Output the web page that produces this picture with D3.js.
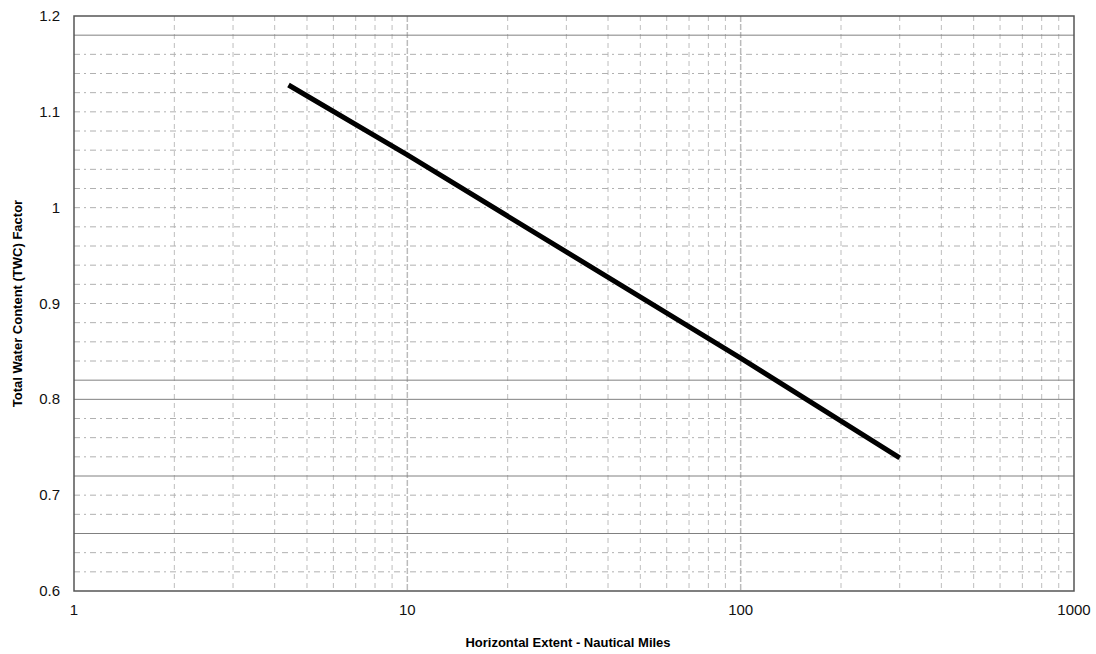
<!DOCTYPE html>
<html>
<head>
<meta charset="utf-8">
<script src="https://cdn.jsdelivr.net/npm/d3@7"></script>
<style>
  body { margin: 0; background: #fff; }
  svg { font-family: "Liberation Sans", Arial, sans-serif; }
</style>
</head>
<body>
<svg id="chart" width="1096" height="654"></svg>
<script>
// curve
const extentNm = [4.4, 10, 100, 300];
const twcFactor = [1.128, 1.055, 0.843, 0.739];

const xTicks = [1, 10, 100, 1000];
const yTicks = [0.6, 0.7, 0.8, 0.9, 1.0, 1.1, 1.2];
const yLabels = ['0.6', '0.7', '0.8', '0.9', '1', '1.1', '1.2'];
// horizontal grid lines that print darker/solid in the original
const solidRows = [1.18, 0.82, 0.80, 0.72, 0.66];

const svg = d3.select('#chart');
const plotL = 74, plotR = 1074, plotT = 16, plotB = 591;

const x = d3.scaleLog().domain([1, 1000]).range([plotL, plotR]);
const y = d3.scaleLinear().domain([0.6, 1.2]).range([plotB, plotT]);

// vertical grid: minor ticks of each decade
const minor = [];
for (let d = 1; d < 1000; d *= 10) for (let k = 2; k <= 9; k++) minor.push(d * k);
svg.append('g').selectAll('line').data(minor).enter().append('line')
  .attr('x1', d => x(d)).attr('x2', d => x(d))
  .attr('y1', plotT).attr('y2', plotB)
  .attr('stroke', '#bdbdbd').attr('stroke-width', 1)
  .attr('stroke-dasharray', '5 4');
svg.append('g').selectAll('line').data(xTicks.slice(1, 3)).enter().append('line')
  .attr('x1', d => x(d)).attr('x2', d => x(d))
  .attr('y1', plotT).attr('y2', plotB)
  .attr('stroke', '#bbb').attr('stroke-width', 1.5)
  .attr('stroke-dasharray', '6 2');

// horizontal grid every 0.02
const rows = d3.range(31).map(i => +(0.6 + i * 0.02).toFixed(2)).filter(v => v > 0.6 && v < 1.2);
svg.append('g').selectAll('line').data(rows.filter(v => !solidRows.includes(v))).enter().append('line')
  .attr('x1', plotL).attr('x2', plotR)
  .attr('y1', d => y(d)).attr('y2', d => y(d))
  .attr('stroke', '#b0b0b0').attr('stroke-width', 1)
  .attr('stroke-dasharray', '6 4 2 4');
svg.append('g').selectAll('line').data(solidRows).enter().append('line')
  .attr('x1', plotL).attr('x2', plotR)
  .attr('y1', d => y(d)).attr('y2', d => y(d))
  .attr('stroke', '#808080').attr('stroke-width', 1);

// frame
svg.append('rect')
  .attr('x', plotL).attr('y', plotT)
  .attr('width', plotR - plotL).attr('height', plotB - plotT)
  .attr('fill', 'none').attr('stroke', '#555').attr('stroke-width', 1.5);

// axes labels
svg.append('g').selectAll('text').data(yTicks).enter().append('text')
  .attr('x', 60).attr('y', d => y(d) + 5)
  .attr('text-anchor', 'end').attr('font-size', 15).attr('fill', '#111')
  .text((d, i) => yLabels[i]);

svg.append('g').selectAll('text').data(xTicks).enter().append('text')
  .attr('x', d => x(d)).attr('y', 615)
  .attr('text-anchor', 'middle').attr('font-size', 15).attr('fill', '#111')
  .text(d => d);

svg.append('text')
  .attr('x', 568).attr('y', 647)
  .attr('text-anchor', 'middle').attr('font-size', 13).attr('font-weight', 'bold')
  .text('Horizontal Extent - Nautical Miles');

svg.append('text')
  .attr('transform', `translate(22,${(plotT + plotB) / 2}) rotate(-90)`)
  .attr('text-anchor', 'middle').attr('font-size', 13).attr('font-weight', 'bold')
  .text('Total Water Content (TWC) Factor');

// the curve
const line = d3.line().x((d, i) => x(extentNm[i])).y(d => y(d));
svg.append('path')
  .attr('d', line(twcFactor))
  .attr('fill', 'none')
  .attr('stroke', '#000')
  .attr('stroke-width', 5);
</script>
</body>
</html>
